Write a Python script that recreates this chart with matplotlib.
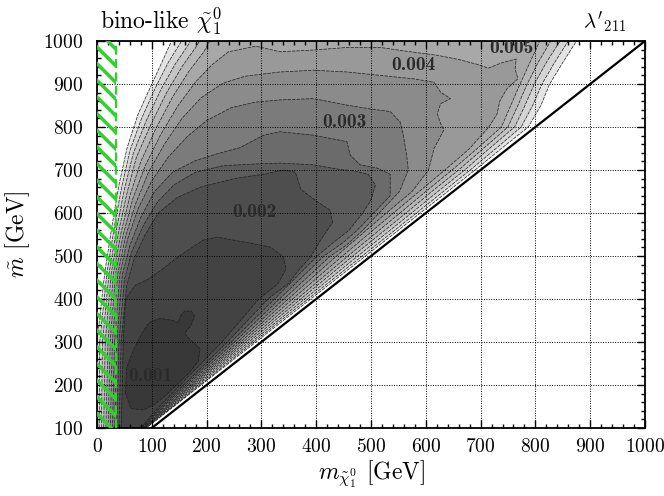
import matplotlib.pyplot as plt
from matplotlib.patches import Rectangle
from matplotlib.ticker import MultipleLocator

plt.rcParams['font.family'] = 'cmr10'
plt.rcParams['mathtext.fontset'] = 'cm'
plt.rcParams['axes.formatter.use_mathtext'] = True
plt.rcParams['hatch.linewidth'] = 2.5

# contour bands, outermost (lightest) first
w0 = [(0, 90), (0, 300), (14, 460), (28, 575), (40, 665), (55, 752), (75, 830), (100, 900), (120, 955), (136, 1000), (138, 1010),
      (875, 1010), (875, 1000), (850, 950), (826, 900), (810, 850), (787, 800), (738, 750), (690, 700), (640, 650), (590, 600),
      (490, 500), (390, 400), (290, 300), (240, 250), (190, 200), (140, 150), (90, 100), (90, 90)]
w1 = [(4, 90), (5, 300), (18, 460), (32, 570), (45, 660), (60, 745), (82, 822), (108, 895), (130, 950), (152, 995), (158, 1010),
      (860, 1010), (860, 1000), (835, 950), (812, 900), (795, 850), (774, 800), (728, 750), (681, 700), (632, 650), (583, 600),
      (484, 500), (385, 400), (286, 300), (237, 250), (188, 200), (139, 150), (89, 100), (89, 90)]
w2 = [(8, 90), (10, 300), (22, 460), (36, 565), (50, 655), (66, 738), (90, 815), (117, 888), (142, 945), (166, 990), (175, 1010),
      (845, 1010), (845, 1000), (820, 950), (798, 900), (781, 850), (762, 800), (716, 750), (671, 700), (622, 650), (574, 600),
      (476, 500), (379, 400), (282, 300), (233, 250), (185, 200), (137, 150), (88, 100), (88, 90)]
w3 = [(12, 90), (15, 300), (26, 460), (40, 560), (55, 648), (72, 730), (98, 805), (127, 880), (155, 940), (180, 985), (192, 1010),
      (828, 1010), (828, 1000), (805, 950), (785, 900), (768, 850), (750, 800), (705, 750), (660, 700), (611, 650), (564, 600),
      (467, 500), (372, 400), (277, 300), (229, 250), (182, 200), (135, 150), (87, 100), (87, 90)]
w4 = [(16, 90), (20, 300), (30, 460), (44, 555), (60, 640), (80, 720), (107, 795), (138, 870), (168, 930), (195, 975), (210, 1010),
      (808, 1010), (808, 1000), (790, 950), (772, 900), (755, 850), (738, 800), (694, 750), (648, 700), (600, 650), (553, 600),
      (458, 500), (365, 400), (272, 300), (225, 250), (179, 200), (133, 150), (86, 100), (86, 90)]
w5 = [(20, 90), (24, 300), (34, 460), (48, 550), (65, 632), (88, 710), (116, 782), (148, 850), (180, 905), (210, 945), (240, 975),
      (290, 988), (334, 975), (395, 979), (456, 985), (517, 985), (560, 977), (620, 967), (660, 957), (693, 946), (714, 937),
      (740, 950), (765, 958), (763, 935), (768, 912), (748, 889), (735, 860), (730, 830), (715, 800), (680, 750), (635, 700),
      (588, 650), (541, 600), (448, 500), (357, 400), (267, 300), (221, 250), (176, 200), (131, 150), (85, 100), (85, 90)]
w6 = [(24, 90), (28, 300), (38, 460), (52, 545), (70, 620), (94, 695), (124, 762), (155, 820), (190, 868), (230, 902), (270, 918),
      (334, 928), (395, 932), (456, 928), (517, 920), (578, 912), (615, 904), (627, 881), (645, 866), (627, 854), (621, 831),
      (627, 808), (633, 793), (615, 750), (605, 700), (575, 650), (528, 600), (437, 500), (349, 400), (262, 300), (217, 250),
      (173, 200), (129, 150), (84, 100), (84, 90)]
w7 = [(28, 90), (32, 300), (42, 460), (56, 540), (75, 610), (100, 675), (130, 730), (165, 778), (200, 815), (245, 845), (290, 858),
      (334, 863), (395, 866), (456, 851), (499, 842), (535, 836), (553, 812), (559, 781), (565, 735), (568, 700), (552, 650),
      (515, 600), (485, 560), (455, 525), (426, 500), (341, 400), (257, 300), (213, 250), (170, 200), (127, 150), (83, 100), (83, 90)]
w8 = [(32, 90), (36, 300), (46, 455), (60, 525), (80, 590), (105, 650), (138, 695), (180, 722), (220, 738), (261, 752), (304, 781),
      (334, 789), (395, 781), (456, 766), (462, 735), (480, 712), (510, 705), (535, 690), (535, 640), (505, 600), (475, 560),
      (448, 530), (414, 500), (333, 400), (251, 300), (208, 250), (166, 200), (124, 150), (82, 100), (82, 90)]
w9 = [(36, 90), (40, 300), (50, 445), (64, 512), (85, 572), (110, 625), (140, 665), (180, 695), (230, 710), (290, 714),
      (334, 716), (395, 712), (444, 701), (470, 698), (495, 690), (508, 665), (500, 630), (485, 600), (460, 560), (430, 530),
      (402, 500), (324, 400), (245, 300), (203, 250), (162, 200), (121, 150), (81, 100), (81, 90)]
w10 = [(40, 90), (44, 300), (54, 430), (68, 495), (88, 550), (112, 600), (145, 635), (188, 660), (250, 680), (303, 690),
       (340, 700), (362, 695), (372, 655), (400, 628), (425, 607), (430, 578), (408, 537), (390, 498), (368, 467), (350, 437),
       (312, 400), (275, 350), (238, 300), (198, 250), (158, 200), (118, 150), (80, 100), (80, 90)]
w11 = [(44, 90), (48, 300), (52, 400), (70, 432), (91, 444), (120, 470), (150, 500), (194, 537), (219, 544), (279, 530),
       (316, 521), (340, 498), (345, 470), (330, 435), (295, 400), (262, 350), (228, 300), (190, 250), (152, 200), (114, 150),
       (79, 100), (79, 90)]
blob = [(52, 180), (54, 240), (66, 280), (82, 320), (95, 345), (115, 355), (139, 350), (148, 345), (152, 360), (160, 372),
        (172, 372), (178, 360), (172, 340), (160, 320), (170, 305), (188, 285), (185, 255), (168, 228), (145, 200), (125, 175),
        (105, 155), (85, 142), (62, 145)]

bands = [w0, w1, w2, w3, w4, w5, w6, w7, w8, w9, w10, w11, blob]
shades = ['#e4e4e4', '#d4d4d4', '#c4c4c4', '#b6b6b6', '#a8a8a8', '#999999', '#8b8b8b',
          '#7b7b7b', '#6b6b6b', '#5c5c5c', '#4e4e4e', '#434343', '#383838']

level_text = ['0.001', '0.002', '0.003', '0.004', '0.005']
level_x = [97, 288, 452, 577, 757]
level_y = [221, 602, 812, 944, 984]

diag_x = [100, 1000]
diag_y = [100, 1000]
lep_cut = 35

fig = plt.figure(figsize=(6.64, 4.96), dpi=100)
ax = fig.add_axes([97 / 664, 1 - 428 / 496, 548 / 664, 387 / 496])

for pts, c in zip(bands, shades):
    xs = [p[0] for p in pts]
    ys = [p[1] for p in pts]
    ax.fill(xs, ys, facecolor=c, edgecolor='none', zorder=1)
    ax.plot(xs + xs[:1], ys + ys[:1], color='#1e1e1e', lw=0.5, ls=(0, (5, 1.5)), zorder=1.1)

for t, x, y in zip(level_text, level_x, level_y):
    ax.text(x, y, t, family='cmb10', fontsize=14, color='#2a2a2a', ha='center', va='center', zorder=3)

ax.plot(diag_x, diag_y, color='black', lw=1.6, zorder=3)

green = '#2fd02f'
ax.add_patch(Rectangle((0, 100), lep_cut, 900, fill=False, hatch='\\\\', edgecolor=green, lw=0, zorder=4))
ax.axvline(lep_cut, color=green, ls=(0, (4, 2)), lw=1.6, zorder=4)

ax.set_xlim(0, 1000)
ax.set_ylim(100, 1000)
ax.set_xticks(range(0, 1001, 100))
ax.set_yticks(range(100, 1001, 100))
ax.xaxis.set_minor_locator(MultipleLocator(20))
ax.yaxis.set_minor_locator(MultipleLocator(20))
ax.tick_params(which='both', direction='in', top=True, right=True, labelsize=14, width=1)
ax.tick_params(which='major', length=6)
ax.tick_params(which='minor', length=3)
ax.tick_params(axis='x', pad=7)
ax.tick_params(axis='y', pad=10)
ax.grid(True, which='major', color='black', ls=(0, (1, 1.5)), lw=0.7)
for s in ax.spines.values():
    s.set_linewidth(1.3)

ax.set_xlabel(r'$m_{\tilde{\chi}_1^0}$ [GeV]', fontsize=17, labelpad=2)
ax.set_ylabel(r'$\tilde{m}$ [GeV]', fontsize=17, labelpad=8)
fig.text(100 / 664, 1 - 29 / 496, r'bino-like $\tilde{\chi}_1^0$', fontsize=17, ha='left', va='baseline')
fig.text(626 / 664, 1 - 29 / 496, r"$\lambda'_{211}$", fontsize=15, ha='right', va='baseline')

fig.savefig('out.png', dpi=100)
